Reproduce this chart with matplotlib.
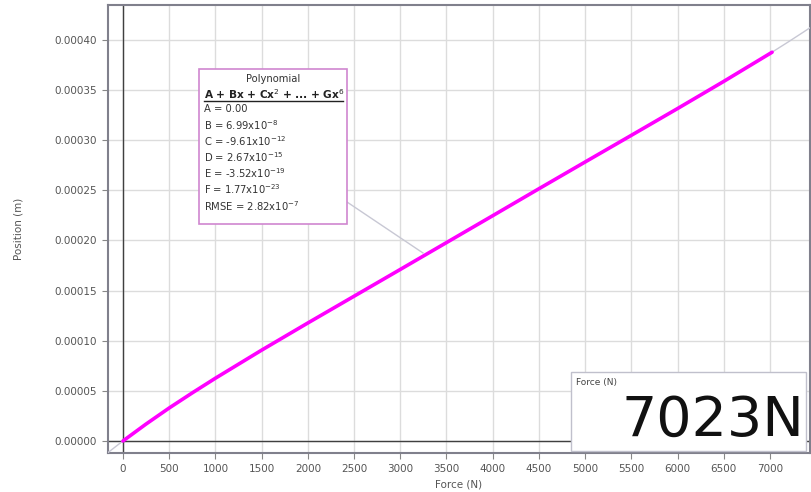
import numpy as np
import matplotlib
matplotlib.use("Agg")
import matplotlib.pyplot as plt
from matplotlib.patches import Rectangle
from matplotlib.lines import Line2D

# Measured force / position samples
force_n = [0, 250, 500, 750, 1000, 1500, 2000, 2500, 3000, 3500,
           4000, 4500, 5000, 5500, 6000, 6500, 7023]
position_m = [0.0, 1.69e-5, 3.29e-5, 4.80e-5, 6.26e-5, 9.06e-5, 1.177e-4,
              1.444e-4, 1.711e-4, 1.979e-4, 2.247e-4, 2.516e-4, 2.783e-4,
              3.049e-4, 3.316e-4, 3.587e-4, 3.878e-4]

# Polynomial fit coefficients (A..F) and fit error
coef_names = ["A", "B", "C", "D", "E", "F"]
coef_values = [0.0, 6.99e-8, -9.61e-12, 2.67e-15, -3.52e-19, 1.77e-23]
coef_labels = ["0.00", "6.99x10$^{-8}$", "-9.61x10$^{-12}$", "2.67x10$^{-15}$",
               "-3.52x10$^{-19}$", "1.77x10$^{-23}$"]
rmse_label = "2.82x10$^{-7}$"

current_force = 7023

x_ticks = list(range(0, 7001, 500))
y_ticks = [0.0, 0.00005, 0.00010, 0.00015, 0.00020, 0.00025, 0.00030, 0.00035, 0.00040]
y_tick_labels = ["0.00000", "0.00005", "0.00010", "0.00015", "0.00020",
                 "0.00025", "0.00030", "0.00035", "0.00040"]

W, H = 811, 492
fig = plt.figure(figsize=(W / 100, H / 100), dpi=100)
fig.patch.set_facecolor("white")


def fpos(x, y):
    """Pixel position (from top-left) to figure fraction."""
    return x / W, 1 - y / H


ax = fig.add_axes([108 / W, 39 / H, (810 - 108) / W, (453 - 5) / H])
ax.set_xlim(-162, 7433)
ax.set_ylim(-1.2e-5, 4.349e-4)

ax.set_xticks(x_ticks)
ax.set_xticklabels([str(t) for t in x_ticks])
ax.set_yticks(y_ticks)
ax.set_yticklabels(y_tick_labels)
ax.tick_params(axis="both", labelsize=7.5, labelcolor="#555555", color="#888888",
               length=4, width=0.8, direction="out", pad=4)
ax.grid(True, color="#dcdcdc", linewidth=1.0)
ax.set_axisbelow(True)
for s in ax.spines.values():
    s.set_color("#80808c")
    s.set_linewidth(1.5)

ax.set_xlabel("Force (N)", fontsize=7.5, color="#555555", labelpad=4)
ax.set_ylabel("Position (m)", fontsize=7.5, color="#555555", labelpad=22)

# zero axes
ax.axhline(0, color="#404040", linewidth=1.0, zorder=2)
ax.axvline(0, color="#404040", linewidth=1.0, zorder=2)

# fitted polynomial
xf = np.linspace(-162, 7433, 400)
yf = np.zeros_like(xf)
for k, c in enumerate(coef_values):
    yf += c * xf ** k
ax.plot(xf, yf, color="#c8c8d4", linewidth=1.0, zorder=3)

# measured data
ax.plot(force_n, position_m, color="#ff00ff", linewidth=2.6, zorder=4,
        solid_capstyle="round")

# leader line from the fit box to the curve
fig.add_artist(Line2D([347 / W, 423 / W], [1 - 202 / H, 1 - 253 / H],
                      color="#c8c8d4", linewidth=1.0, zorder=5))

# fit parameter box
bx0, by0, bx1, by1 = 199, 69, 347, 224
fig.add_artist(Rectangle(fpos(bx0, by1), (bx1 - bx0) / W, (by1 - by0) / H,
                         facecolor="white", edgecolor="#cf86cf", linewidth=1.2,
                         zorder=6))
fs = 7.2
tc = "#333333"
fig.text(*fpos(273, 79), "Polynomial", ha="center", va="center", fontsize=fs,
         color=tc, zorder=7)
fig.text(*fpos(204, 94), "A + Bx + Cx$^{2}$ + ... + Gx$^{6}$", ha="left",
         va="center", fontsize=7.6, color="#222222", fontweight="bold", zorder=7)
fig.add_artist(Line2D([204 / W, 343 / W], [1 - 101 / H, 1 - 101 / H],
                      color="#222222", linewidth=1.0, zorder=7))
rows_y = [109, 125, 141, 157, 173, 189]
for name, lab, yy in zip(coef_names, coef_labels, rows_y):
    fig.text(*fpos(204, yy), f"{name} = {lab}", ha="left", va="center",
             fontsize=fs, color=tc, zorder=7)
fig.text(*fpos(204, 206), f"RMSE = {rmse_label}", ha="left", va="center",
         fontsize=fs, color=tc, zorder=7)

# current force readout
rx0, ry0, rx1, ry1 = 571, 372, 806, 451
fig.add_artist(Rectangle(fpos(rx0, ry1), (rx1 - rx0) / W, (ry1 - ry0) / H,
                         facecolor="white", edgecolor="#c0c0cc", linewidth=1.0,
                         zorder=6))
fig.text(*fpos(576, 383), "Force (N)", ha="left", va="center", fontsize=6.5,
         color="#444444", zorder=7)
fig.text(*fpos(804, 421), f"{current_force}N", ha="right", va="center",
         fontsize=40, color="#111111", zorder=7)

fig.savefig("out.png", dpi=100, facecolor="white")
